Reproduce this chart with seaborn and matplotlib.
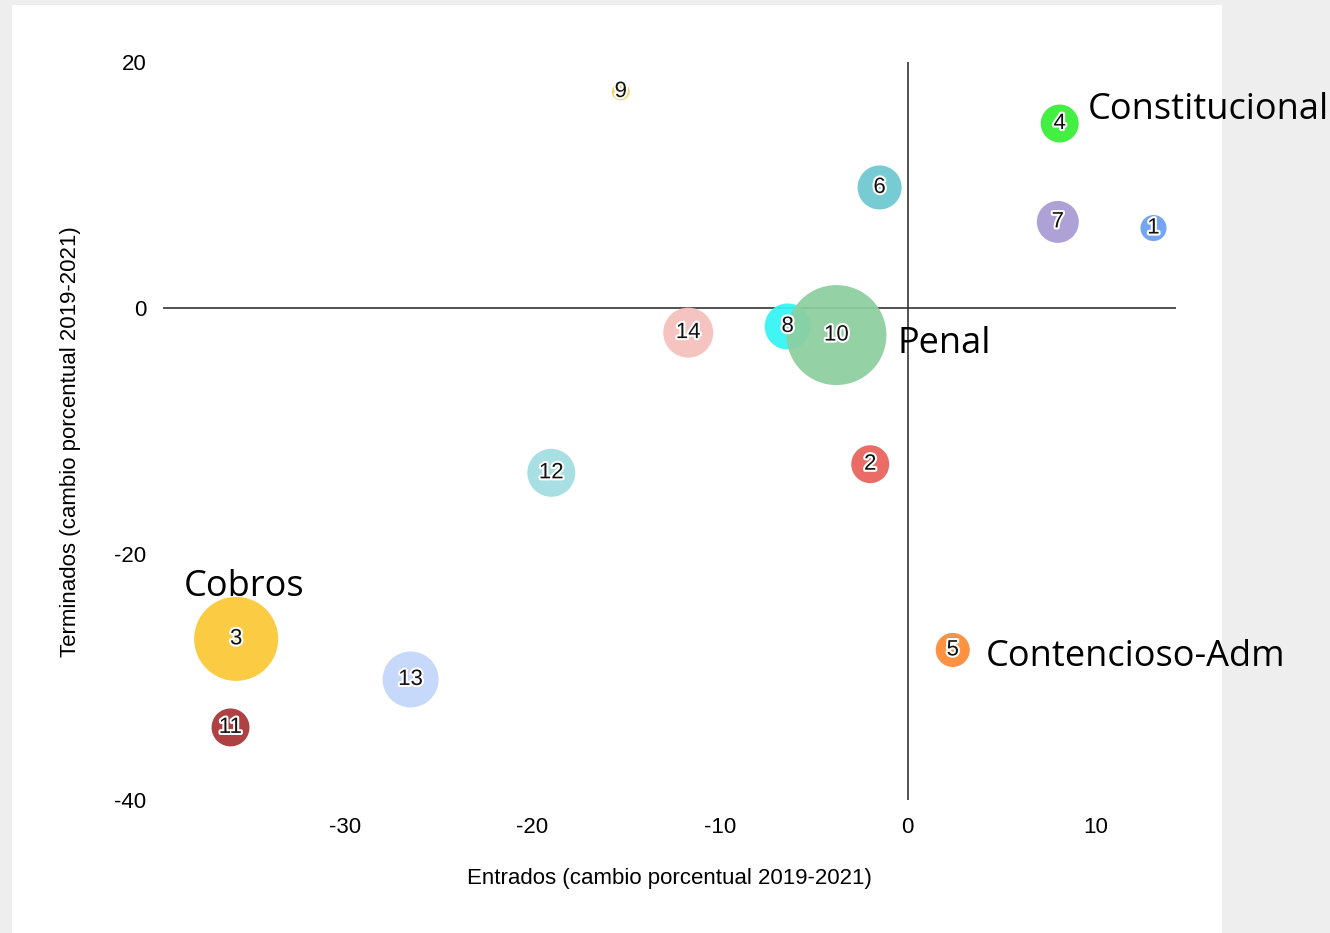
import matplotlib
matplotlib.use("Agg")
import matplotlib.pyplot as plt
import matplotlib.patheffects as pe
from matplotlib.patches import Rectangle
import pandas as pd
import seaborn as sns

# datos
ids = ["1", "2", "3", "4", "5", "6", "7", "8", "9", "10", "11", "12", "13", "14"]
entrados = [13.1, -2.0, -35.8, 8.1, 2.4, -1.5, 8.0, -6.4, -15.3, -3.8, -36.1, -19.0, -26.5, -11.7]
terminados = [6.5, -12.7, -26.9, 15.0, -27.8, 9.8, 7.0, -1.5, 17.6, -2.2, -34.1, -13.4, -30.2, -2.0]
peso = [6.8, 14.4, 70.6, 14.4, 11.6, 19.4, 17.6, 21.2, 3.2, 100, 14.4, 23.0, 31.4, 25.0]
colores = ["#6a9ef0", "#e8625a", "#fbc934", "#33ee33", "#fd8a35", "#6cc9cf", "#a89ad2",
           "#33f5f5", "#f5d060", "#8ccf9f", "#a83232", "#a0dde0", "#c3d6fb", "#f5c0bb"]

materias = ["Constitucional", "Penal", "Cobros", "Contencioso-Adm"]
materia_x = [9.6, -0.55, -38.6, 4.15]
materia_y = [16.1, -2.9, -22.7, -28.4]

df = pd.DataFrame({"id": ids, "entrados": entrados, "terminados": terminados, "peso": peso})

sns.set_theme(style="white")
plt.rcParams["font.family"] = ["Liberation Sans", "DejaVu Sans"]
plt.rcParams["axes.unicode_minus"] = False

fig = plt.figure(figsize=(13.3, 9.33), dpi=100, facecolor="#eeeeee")
# panel blanco de la diapositiva
fig.patches.append(Rectangle((12 / 1330, 0), 1210 / 1330, 1 - 5 / 933,
                             transform=fig.transFigure, facecolor="white",
                             edgecolor="none", zorder=-10))
ax = fig.add_axes([163 / 1330, 1 - 800 / 933, 1013 / 1330, 738 / 933])
ax.set_facecolor("none")

ax.axhline(0, color="#333333", lw=1.2, zorder=1)
ax.axvline(0, color="#333333", lw=1.2, zorder=1)

sns.scatterplot(data=df, x="entrados", y="terminados", hue="id", size="peso",
                palette=dict(zip(ids, colores)), sizes=(0, 5184), size_norm=(0, 100),
                alpha=0.93, linewidth=0, legend=False, ax=ax, zorder=2)

for i, xv, yv in zip(ids, entrados, terminados):
    ax.text(xv, yv, i, ha="center", va="center", fontsize=16, color="#111111", zorder=3,
            path_effects=[pe.withStroke(linewidth=3, foreground="white")])

for m, xv, yv in zip(materias, materia_x, materia_y):
    ax.text(xv, yv, m, ha="left", va="center", fontsize=26, color="black",
            family=["Open Sans", "DejaVu Sans"], zorder=4)

ax.set_xlim(-39.7, 14.3)
ax.set_ylim(-40, 20)
ax.set_xticks([-30, -20, -10, 0, 10])
ax.set_yticks([-40, -20, 0, 20])
ax.tick_params(axis="both", length=0, labelsize=16, colors="black")
ax.tick_params(axis="x", pad=12)
ax.tick_params(axis="y", pad=12)
for s in ax.spines.values():
    s.set_visible(False)

ax.set_xlabel("Entrados (cambio porcentual 2019-2021)", fontsize=16, color="black", labelpad=22)
ax.set_ylabel("Terminados (cambio porcentual 2019-2021)", fontsize=16, color="black")
ax.yaxis.set_label_coords(-0.081, 0.485)

fig.savefig("out.png", dpi=100, facecolor=fig.get_facecolor())
